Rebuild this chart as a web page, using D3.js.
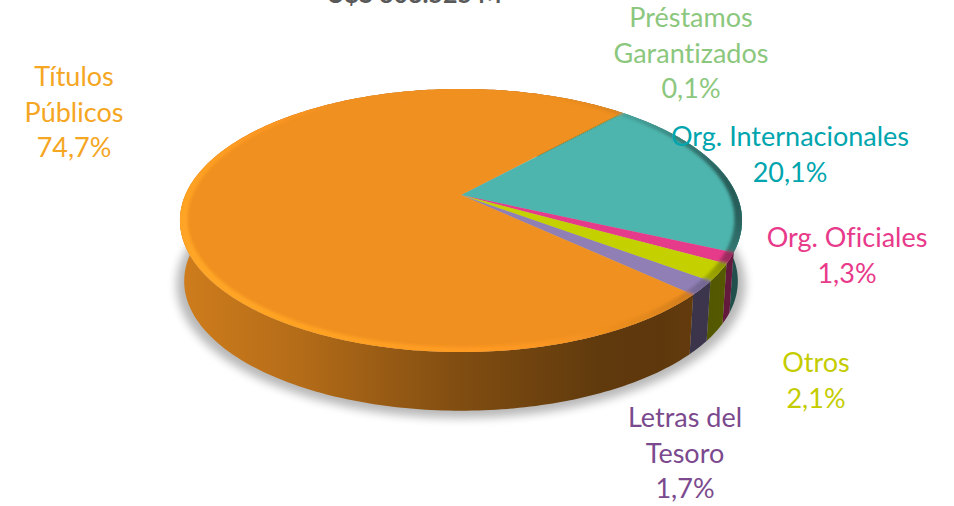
<!DOCTYPE html>
<html><head><meta charset="utf-8">
<script src="https://cdnjs.cloudflare.com/ajax/libs/d3/7.8.5/d3.min.js"></script>
<style>html,body{margin:0;padding:0;background:#fff;overflow:hidden}svg{display:block}text{font-variant-ligatures:none}</style>
</head><body><svg id="c" width="954" height="506"></svg>
<script>
// Data
const categories = ["Préstamos Garantizados","Org. Internacionales","Org. Oficiales","Otros","Letras del Tesoro","Títulos Públicos"];
const shares = [0.1,20.1,1.3,2.1,1.7,74.7];
const shareLabels = ["0,1%","20,1%","1,3%","2,1%","1,7%","74,7%"];
const titleText = "U$S 303.525 M";

// Styles and layout
const sliceColors = ["#8CC77E","#4DB5AD","#E63B8A","#C5D000","#8F7FB5","#F09020"];
const labelColors = ["#8CC77E","#00A5AE","#E8398A","#C4CC00","#7B4A8E","#F5A623"];
const labelLines = [["Préstamos","Garantizados"],["Org. Internacionales"],["Org. Oficiales"],["Otros"],["Letras del","Tesoro"],["Títulos","Públicos"]];
const labelAnchors = [[691,27],[790,146],[847,247],[816,372],[685,427],[74,86]];
const LINE = 35.5, FONT = 27, TITLE_FONT = 25;

const svg = d3.select("#c");
const defs = svg.append("defs");
defs.append("filter").attr("id","sh").attr("x","-10%").attr("y","-10%").attr("width","120%").attr("height","130%")
  .append("feGaussianBlur").attr("stdDeviation",5);
defs.append("filter").attr("id","soft").attr("x","-5%").attr("y","-5%").attr("width","110%").attr("height","110%")
  .append("feGaussianBlur").attr("stdDeviation",1.4);

// Perspective projection of the unit disc
const CX=461, AY=195, R=275.7, S=126.6, K=-0.194, DEPTH=61;
function proj(r,a,scale=1,dy=0){
  const x=r*Math.sin(a), y=-r*Math.cos(a), w=1+K*y;
  return [CX+scale*R*x/w, AY+dy+scale*S*y/w];
}
const line=d3.line();
const START=42*Math.PI/180;
const pie=d3.pie().sort(null).value(d=>d).startAngle(START).endAngle(START+2*Math.PI);
const arcs=pie(shares);
const steps=(a0,a1,deg)=>{const n=Math.max(1,Math.ceil((a1-a0)/(deg*Math.PI/180)));return d3.range(n+1).map(i=>a0+(a1-a0)*i/n);};

// Shadow
svg.append("path").attr("d",line(steps(0,2*Math.PI,2).map(a=>proj(1,a,1.012,DEPTH+3)))+"Z")
  .attr("fill","#000").attr("opacity",.28).attr("filter","url(#sh)");

// Walls, with a horizontal shading gradient per slice
const shadeX=[185,300,453,600,660,742], shadeT=[.86,.75,.54,.40,.39,.44];
const mix=(c,t)=>{const q=d3.rgb(c);return d3.rgb(q.r*t,q.g*t,q.b*t).formatHex();};
sliceColors.forEach((c,i)=>{
  const g=defs.append("linearGradient").attr("id","w"+i).attr("gradientUnits","userSpaceOnUse")
    .attr("x1",shadeX[0]).attr("x2",shadeX[shadeX.length-1]).attr("y1",0).attr("y2",0);
  shadeX.forEach((x,j)=>g.append("stop").attr("offset",(x-shadeX[0])/(shadeX[shadeX.length-1]-shadeX[0])).attr("stop-color",mix(c,shadeT[j])));
});
svg.append("g").selectAll("path").data(arcs).join("path")
  .attr("d",d=>{
    const as=steps(d.startAngle,d.endAngle,1);
    return line([...as.map(a=>proj(1,a)),...as.slice().reverse().map(a=>proj(1,a,.985,DEPTH))])+"Z";
  })
  .attr("fill",(d,i)=>`url(#w${i})`);

// Top face
svg.append("g").selectAll("path").data(arcs).join("path")
  .attr("d",d=>line([[CX,AY],...steps(d.startAngle,d.endAngle,1).map(a=>proj(1,a))])+"Z")
  .attr("fill",(d,i)=>sliceColors[i]);

// Bevel along the rim
const clip=defs.append("clipPath").attr("id","top");
clip.append("path").attr("d",line(steps(0,2*Math.PI,1).map(a=>proj(1,a)))+"Z");
const gB=svg.append("g").attr("clip-path","url(#top)");
const gBevel=gB.append("g").attr("filter","url(#soft)");
arcs.forEach((d,i)=>{
  const as=steps(d.startAngle,d.endAngle,1.5);
  for(let j=0;j<as.length-1;j++){
    const a=as[j],b=as[j+1],m=(a+b)/2;
    const light=Math.max(0,-.85*Math.sin(m)-.5*Math.cos(m));
    const dark=Math.max(0,Math.sin(m));
    const base=d3.rgb(sliceColors[i]);
    let col=d3.interpolateRgb(base,base.brighter(.4))(light);
    col=d3.interpolateRgb(col,mix(sliceColors[i],.45))(Math.pow(dark,4)*.9);
    gBevel.append("path").attr("d",line([proj(1.01,a),proj(1.01,b),proj(.975,b),proj(.975,a)])+"Z").attr("fill",col).attr("stroke",col).attr("stroke-width",.6);
  }
});

// Texts
const font="Lato, 'Open Sans', sans-serif";
svg.append("text").attr("x",414).attr("y",3).attr("text-anchor","middle").attr("font-family",font).attr("font-weight",700).attr("font-size",TITLE_FONT).attr("fill","#595959").text(titleText);
const gL=svg.append("g").attr("font-family",font).attr("font-size",FONT).attr("text-anchor","middle");
categories.forEach((c,i)=>{
  const rows=[...labelLines[i],shareLabels[i]];
  rows.forEach((t,j)=>gL.append("text").attr("x",labelAnchors[i][0]).attr("y",labelAnchors[i][1]+j*LINE).attr("fill",labelColors[i]).text(t));
});
</script></body></html>
